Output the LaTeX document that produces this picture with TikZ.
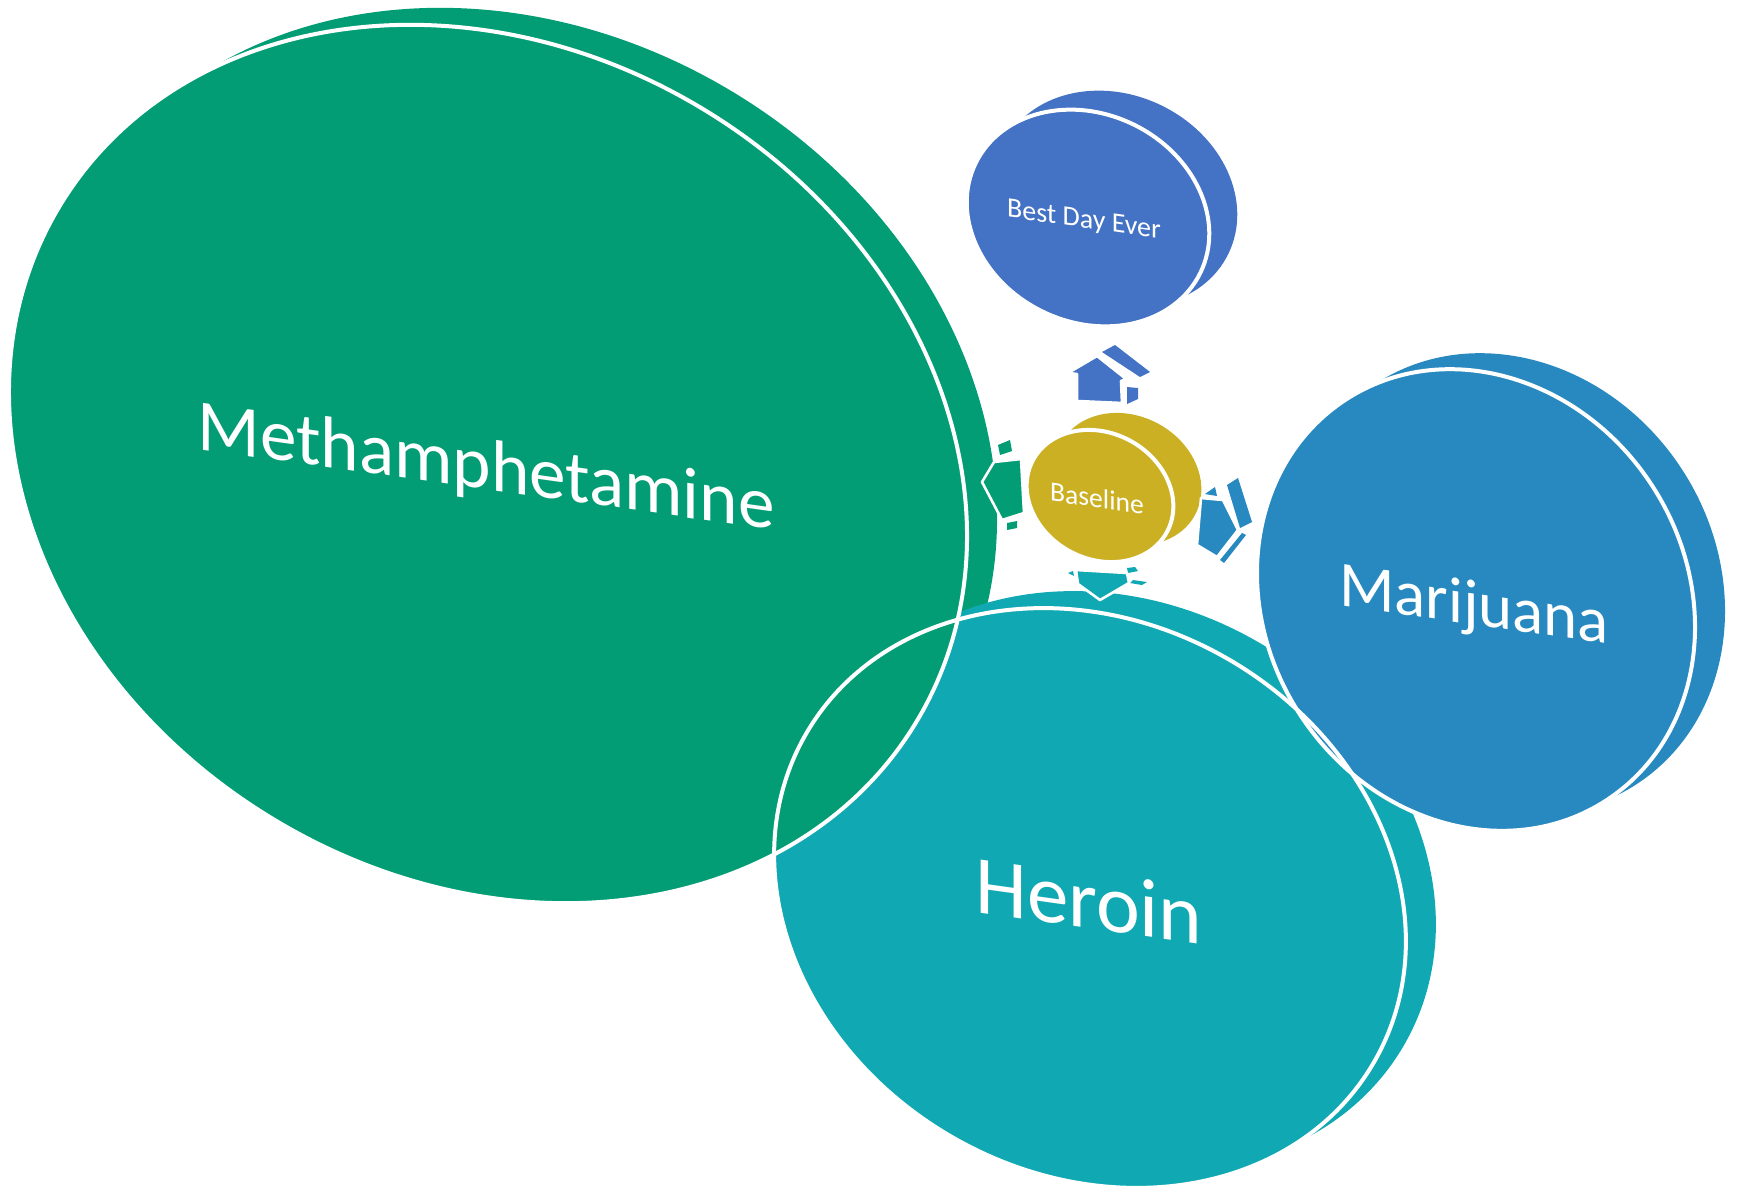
\documentclass[tikz,border=0pt]{standalone}
\usepackage{fontspec}
\setmainfont{Carlito-Regular.ttf}

\definecolor{methgreen}{RGB}{3,157,117}
\definecolor{heroteal}{RGB}{16,169,179}
\definecolor{mariblue}{RGB}{39,137,192}
\definecolor{bestblue}{RGB}{68,114,196}
\definecolor{basegold}{RGB}{204,176,36}

\tikzset{
  discback/.style={fill=#1},
  discfront/.style={fill=#1, draw=white, line width=2pt},
  arrowside/.style={fill=#1},
  arrowfront/.style={fill=#1, draw=white, line width=1.3pt, line join=round},
  disctext/.style={text=white, inner sep=0pt, yslant=-0.14}
}

\begin{document}
\begin{tikzpicture}[x=0.5pt, y=0.5pt]
\useasboundingbox (0,0) rectangle (1739,-1193);

% Methamphetamine and Heroin
\fill[discback=methgreen, rotate around={-31:(518,-447)}] (518,-447) ellipse [x radius=500, y radius=415];
\fill[discback=heroteal, rotate around={-30:(1120,-881)}] (1120,-881) ellipse [x radius=328, y radius=276];
\fill[heroteal, rotate around={-30:(1090,-898)}] (1090,-898) ellipse [x radius=328, y radius=276];
\filldraw[discfront=methgreen, rotate around={-31:(488,-464)}] (488,-464) ellipse [x radius=500, y radius=415];

% Marijuana
\fill[discback=mariblue, rotate around={-57:(1506,-584)}] (1506,-584) ellipse [x radius=239, y radius=210];
\filldraw[discfront=mariblue, rotate around={-57:(1476,-600)}] (1476,-600) ellipse [x radius=239, y radius=210];
\draw[white, line width=2pt, rotate around={-30:(1090,-898)}] (1090,-898) ellipse [x radius=328, y radius=276];

% Best Day Ever
\fill[discback=bestblue, rotate around={-26:(1116,-199)}] (1116,-199) ellipse [x radius=125, y radius=104];
\filldraw[discfront=bestblue, rotate around={-26:(1088,-218)}] (1088,-218) ellipse [x radius=125, y radius=104];

% Baseline
\fill[discback=basegold, rotate around={-28:(1128,-479)}] (1128,-479) ellipse [x radius=76, y radius=63];
\filldraw[discfront=basegold, rotate around={-28:(1100,-496)}] (1100,-496) ellipse [x radius=76, y radius=63];

% arrows
\fill[arrowside=bestblue] (1102,-352) -- (1115,-345) -- (1150,-372) -- (1140,-377) -- cycle;
\fill[arrowside=bestblue] (1127,-387) -- (1138,-388) -- (1138,-399) -- (1127,-404) -- cycle;
\filldraw[arrowfront=bestblue] (1077,-401) -- (1077,-374) -- (1068,-373) -- (1097,-356) -- (1126,-379) -- (1121,-381) -- (1122,-403) -- cycle;

\fill[arrowside=methgreen] (998,-445) -- (1010,-440) -- (1012,-451) -- (1000,-455) -- cycle;
\fill[arrowside=methgreen] (1007,-523) -- (1017,-521) -- (1017,-528) -- (1007,-530) -- cycle;
\filldraw[arrowfront=methgreen] (982,-482) -- (994,-462) -- (1021,-459) -- (1024,-513) -- (1002,-520) -- cycle;

\fill[arrowside=mariblue] (1205,-494) -- (1215,-487) -- (1217,-496) -- cycle;
\fill[arrowside=mariblue] (1227,-485) -- (1238,-478) -- (1252,-522) -- (1240,-528) -- cycle;
\fill[arrowside=mariblue] (1220,-560) -- (1242,-533) -- (1246,-535) -- (1224,-563) -- cycle;
\filldraw[arrowfront=mariblue] (1201,-498) -- (1223,-500) -- (1238,-530) -- (1217,-557) -- (1197,-545) -- cycle;

\fill[arrowside=heroteal] (1068,-573) -- (1073,-571) -- (1074,-576) -- cycle;
\fill[arrowside=heroteal] (1127,-568) -- (1135,-567) -- (1138,-571) -- (1128,-573) -- cycle;
\fill[arrowside=heroteal] (1133,-580) -- (1147,-582) -- (1142,-585) -- (1130,-583) -- cycle;
\filldraw[arrowfront=heroteal] (1076,-570) -- (1127,-573) -- (1129,-583) -- (1100,-600) -- (1078,-584) -- cycle;

\node[disctext, font=\fontsize{36.6}{40}\selectfont] (meth) at (486,-470) {Methamphetamine};
\node[disctext, font=\fontsize{41.5}{45}\selectfont] (heroin) at (1089,-900) {Heroin};
\node[disctext, font=\fontsize{32.4}{36}\selectfont] (marijuana) at (1474,-608) {Marijuana};
\node[disctext, font=\fontsize{14}{16}\selectfont] (bestday) at (1084,-221) {Best Day Ever};
\node[disctext, font=\fontsize{13.8}{16}\selectfont] (baseline) at (1097,-498) {Baseline};

\end{tikzpicture}
\end{document}
